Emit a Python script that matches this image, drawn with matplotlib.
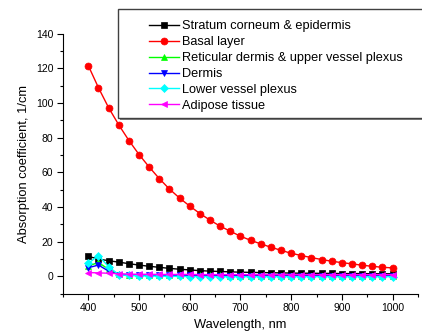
import numpy as np
import matplotlib
matplotlib.use("Agg")
import matplotlib.pyplot as plt
from matplotlib.ticker import MultipleLocator
from matplotlib.patches import Rectangle

plt.rcParams['font.family'] = ['Liberation Sans', 'DejaVu Sans']

# wavelength grid, nm
wl = np.arange(400, 1001, 20)

stratum = [11.5, 10.0, 9.0, 8.2, 7.3, 6.5, 5.8, 5.2, 4.6, 4.1, 3.7, 3.3, 3.0, 2.8, 2.6,
           2.4, 2.3, 2.2, 2.1, 2.0, 1.9, 1.8, 1.8, 1.7, 1.7, 1.6, 1.6, 1.6, 1.5, 1.5, 1.5]
basal = [121.4, 108.7, 97.2, 87.3, 78.3, 70.2, 63.0, 56.3, 50.3, 45.1, 40.5, 36.2, 32.4,
         28.9, 26.0, 23.1, 20.8, 18.7, 16.8, 15.0, 13.3, 12.0, 10.8, 9.7, 8.7, 7.9,
         7.2, 6.4, 5.8, 5.2, 4.9]
reticular = [6.0, 8.0, 4.0, 1.2, 0.9, 0.8, 0.7, 0.7, 0.6, 0.6, 0.5, 0.5, 0.5, 0.5, 0.4,
             0.4, 0.4, 0.4, 0.4, 0.4, 0.4, 0.3, 0.3, 0.3, 0.3, 0.3, 0.3, 0.3, 0.3, 0.3, 0.3]
dermis = [5.0, 6.5, 3.0, 1.0, 0.8, 0.7, 0.6, 0.6, 0.5, 0.5, 0.5, 0.4, 0.4, 0.4, 0.4,
          0.4, 0.3, 0.3, 0.3, 0.3, 0.3, 0.3, 0.3, 0.3, 0.3, 0.3, 0.3, 0.3, 0.3, 0.3, 0.3]
lower_plexus = [7.5, 12.0, 5.5, 1.0, 0.5, 0.3, 0.2, 0.1, 0.0, 0.0, -0.1, -0.1, -0.1,
                -0.2, -0.2, -0.2, -0.2, -0.2, -0.2, -0.2, -0.2, -0.2, -0.2, -0.2, -0.2,
                -0.2, -0.2, -0.2, -0.2, -0.2, -0.2]
adipose = [2.2, 2.0, 1.8, 1.5, 1.3, 1.2, 1.2, 1.1, 1.1, 1.1, 1.1, 1.0, 1.0, 1.0, 1.0,
           1.0, 1.0, 1.0, 1.0, 1.0, 1.0, 1.0, 1.0, 1.0, 1.0, 1.0, 1.0, 1.0, 1.0, 1.0, 1.0]

labels = ["Stratum corneum & epidermis", "Basal layer",
          "Reticular dermis & upper vessel plexus", "Dermis",
          "Lower vessel plexus", "Adipose tissue"]
series = [stratum, basal, reticular, dermis, lower_plexus, adipose]
colors = ["#000000", "#ff0000", "#00ff00", "#0000ff", "#00ffff", "#ff00ff"]
markers = ["s", "o", "^", "v", "D", "<"]
msizes = [4.2, 5, 4.8, 4.8, 4.2, 4.8]

W, H = 422, 336
fig = plt.figure(figsize=(W / 100, H / 100), dpi=100)
ax = fig.add_axes([63 / W, 1 - 293.7 / H, 355 / W, 260.2 / H])

for y, lab, c, m, ms in zip(series, labels, colors, markers, msizes):
    ax.plot(wl, y, color=c, marker=m, markersize=ms, linewidth=1,
            markeredgewidth=0.5, label=lab)

ax.set_xlim(350, 1050)
ax.set_ylim(-10, 140)
ax.xaxis.set_major_locator(MultipleLocator(100))
ax.xaxis.set_minor_locator(MultipleLocator(50))
ax.yaxis.set_major_locator(MultipleLocator(20))
ax.yaxis.set_minor_locator(MultipleLocator(10))
ax.spines['top'].set_visible(False)
ax.spines['right'].set_visible(False)
ax.tick_params(which='both', direction='out', labelsize=7.5, width=0.8, pad=3)
ax.tick_params(which='major', length=4)
ax.tick_params(which='minor', length=2.5)

ax.set_xlabel("Wavelength, nm", fontsize=9.3)
ax.set_ylabel("Absorption coefficient, 1/cm", fontsize=9.3)

# legend box (runs off the right edge, with a grey drop shadow)
fig.patches.append(Rectangle((120 / W, 1 - 120 / H), 320 / W, 111 / H,
                             transform=fig.transFigure, facecolor="#808080",
                             edgecolor="none", zorder=5))
fig.patches.append(Rectangle((118 / W, 1 - 118 / H), 320 / W, 109 / H,
                             transform=fig.transFigure, facecolor="white",
                             edgecolor="#404040", linewidth=1.0, zorder=6))

leg = fig.legend(loc='upper left', bbox_to_anchor=(149 / W, 1 - 20.5 / H),
                 fontsize=9.2, frameon=False,
                 handlelength=2.35, handletextpad=0.25, labelspacing=0.3,
                 borderpad=0, borderaxespad=0)
leg.set_zorder(7)

fig.savefig("out.png", dpi=100)
